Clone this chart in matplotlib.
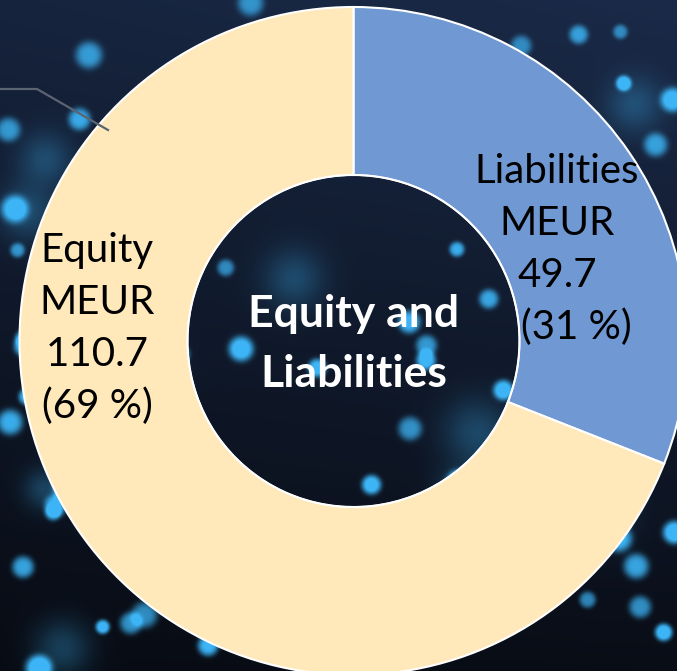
import matplotlib.pyplot as plt
from matplotlib.patches import Circle
import numpy as np

# Datos del balance (MEUR)
names = ["Liabilities", "Equity"]
values = [49.7, 110.7]
unit = "MEUR"
title = "Equity and\nLiabilities"

colors = ["#7099D3", "#FFE9BB"]

W, H = 677, 671
CX, CY = 353.5, H - 341
R_OUT, R_IN = 334, 166

plt.rcParams["font.family"] = ["Lato", "DejaVu Sans"]


def bokeh_background(w, h, seed=7):
    """Fondo azul oscuro con puntos difusos (solo decorativo)."""
    yy, xx = np.mgrid[0:h, 0:w]
    t = yy / h
    top = np.array([26, 42, 72]) / 255
    bot = np.array([9, 13, 22]) / 255
    img = top[None, None, :] * (1 - t[..., None]) + bot[None, None, :] * t[..., None]
    img *= (0.85 + 0.15 * (xx / w))[..., None]
    rng = np.random.default_rng(seed)
    dot = np.array([60, 180, 245]) / 255
    glow = np.zeros((h, w))
    for _ in range(95):
        x0, y0 = rng.uniform(0, w), rng.uniform(0, h)
        r = rng.uniform(5, 10)
        a = rng.uniform(0.7, 1.2)
        glow += a * np.exp(-(((xx - x0) ** 2 + (yy - y0) ** 2) / (2 * r ** 2)) ** 2)
    for _ in range(16):
        x0, y0 = rng.uniform(0, w), rng.uniform(0, h)
        r = rng.uniform(14, 24)
        glow += 0.3 * np.exp(-((xx - x0) ** 2 + (yy - y0) ** 2) / (2 * r ** 2))
    glow = np.clip(glow, 0, 1)
    img = img * (1 - glow[..., None]) + dot[None, None, :] * glow[..., None]
    return np.clip(img, 0, 1)


fig = plt.figure(figsize=(W / 100, H / 100), dpi=100)
ax = fig.add_axes([0, 0, 1, 1])

ax.imshow(bokeh_background(W, H), extent=(0, W, 0, H), origin="upper", zorder=0)

ax.pie(values, colors=colors, startangle=90, counterclock=False,
       center=(CX, CY), radius=R_OUT,
       wedgeprops=dict(width=R_OUT - R_IN, edgecolor="white", linewidth=1.5))
ax.add_patch(Circle((CX, CY), R_IN, fill=False, edgecolor="white", lw=1.2, zorder=3))

# linea guia suelta arriba a la izquierda
ax.plot([0, 37, 108], [H - 89, H - 89, H - 130], color="#5b6472", lw=1.6, zorder=2)

total = sum(values)
pcts = [round(v / total * 100) for v in values]

# etiquetas: (x centro, linea base de la primera fila, desplazamiento de la ultima fila)
label_pos = [(557, H - 183, 19), (97, H - 262, 0)]
line_gap = 52
for name, v, p, (lx, ly, off) in zip(names, values, pcts, label_pos):
    lines = [name, unit, f"{v:.1f}", f"({p} %)"]
    for i, s in enumerate(lines):
        dx = off if i == 3 else 0
        ax.text(lx + dx, ly - i * line_gap, s, ha="center", va="baseline",
                fontsize=29, color="black", zorder=4)

for i, s in enumerate(title.split("\n")):
    ax.text(CX, H - 327 - i * 60, s, ha="center", va="baseline",
            fontsize=32, fontweight="bold", color="white", zorder=4)

ax.set_xlim(0, W)
ax.set_ylim(0, H)
ax.set_aspect("auto")
ax.axis("off")

fig.savefig("out.png", dpi=100)
plt.close(fig)
